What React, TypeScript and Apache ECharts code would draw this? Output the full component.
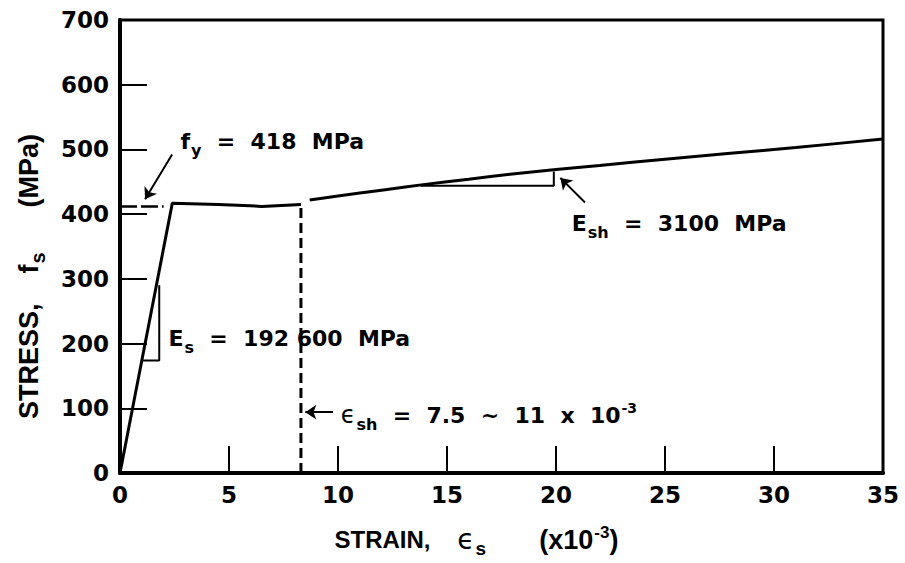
import React, { useEffect, useRef } from "react";
import * as echarts from "echarts";

// Stress-strain data (strain x10^-3, stress MPa)
const elasticPlateau: [number, number][] = [
  [0, 0], [2.4, 417], [4.5, 415], [6.5, 412], [8.3, 415],
];
const hardening: [number, number][] = [
  [8.7, 422], [10, 428], [12, 437], [14, 446], [16, 454], [18, 462],
  [20, 469], [22, 475], [25, 485], [28, 494], [31, 503], [35, 516],
];
const esTriangle: [number, number][] = [[1.0, 174], [1.8, 174], [1.8, 290]];
const eshTriangle: [number, number][] = [[13.8, 444], [19.9, 444], [19.9, 466]];
const fyDash: [number, number][] = [[0, 412], [2.0, 412]];
const eshDash: [number, number][] = [[8.3, 0], [8.3, 415]];

const arrows: [number, number][][] = [
  [[2.39, 492], [1.15, 423]],
  [[21.33, 418], [20.2, 456]],
  [[9.77, 94], [8.5, 94]],
];

const annotations: { pos: [number, number]; text: string }[] = [
  { pos: [2.75, 512], text: "{n|f}{sub|y}{n|  =  418  MPa}" },
  { pos: [2.2, 208], text: "{n|E}{sub|s}{n|  =  192 600  MPa}" },
  { pos: [10.1, 89], text: "{e|ϵ}{sub|sh}{n|  =  7.5  ~  11  x  10}{sup|-3}" },
  { pos: [20.7, 386], text: "{n|E}{sub|sh}{n|  =  3100  MPa}" },
];

const xTicks = [0, 5, 10, 15, 20, 25, 30, 35];
const yTicks = [0, 100, 200, 300, 400, 500, 600, 700];

const FONT = "DejaVu Sans";
const rich = {
  n: { fontSize: 22, fontWeight: "bold", fontFamily: FONT, color: "#000" },
  e: { fontSize: 24, fontWeight: "normal", fontFamily: FONT, color: "#000" },
  sub: { fontSize: 16, fontWeight: "bold", fontFamily: FONT, color: "#000", padding: [18, 0, 0, 1] },
  sup: { fontSize: 14, fontWeight: "bold", fontFamily: FONT, color: "#000", padding: [0, 0, 14, 1] },
};
const NF = "Liberation Sans";
const xRich = {
  n: { fontSize: 24, fontWeight: "bold", fontFamily: NF, color: "#000" },
  m: { fontSize: 27, fontWeight: "bold", fontFamily: NF, color: "#000" },
  e: { fontSize: 28, fontWeight: "normal", fontFamily: FONT, color: "#000" },
  sub: { fontSize: 19, fontWeight: "bold", fontFamily: NF, color: "#000", padding: [18, 0, 0, 1] },
  sup: { fontSize: 17, fontWeight: "bold", fontFamily: NF, color: "#000", padding: [0, 0, 14, 1] },
};
const yRich = {
  n: { fontSize: 27, fontWeight: "bold", fontFamily: NF, color: "#000" },
  sub: { fontSize: 20, fontWeight: "bold", fontFamily: NF, color: "#000", padding: [18, 0, 0, 1] },
};

export default function App() {
  const ref = useRef<HTMLDivElement>(null);
  useEffect(() => {
    if (!ref.current) return;
    const chart = echarts.init(ref.current, undefined, { renderer: "svg" });
    const solid = { color: "#000", width: 3 };
    chart.setOption({
      animation: false,
      backgroundColor: "#fff",
      grid: {
        show: true, left: 120, right: 22, top: 20, bottom: 88,
        borderColor: "#000", borderWidth: 3, containLabel: false,
      },
      xAxis: {
        type: "value", min: xTicks[0], max: xTicks[xTicks.length - 1], interval: 5,
        axisLine: { show: true, lineStyle: { color: "#000", width: 4 } },
        axisTick: { show: true, inside: true, length: 27, lineStyle: { color: "#000", width: 2 } },
        axisLabel: { fontSize: 23, fontWeight: "bold", fontFamily: FONT, color: "#000", margin: 10 },
        splitLine: { show: false },
        name: "{n|STRAIN,    }{e|ϵ}{sub|s}{n|        }{m|(x10}{sup|-3}{m|)}",
        nameLocation: "middle", nameGap: 48,
        nameTextStyle: { rich: xRich, padding: [0, 50, 0, 0] },
      },
      yAxis: {
        type: "value", min: yTicks[0], max: yTicks[yTicks.length - 1], interval: 100,
        axisLine: { show: true, lineStyle: { color: "#000", width: 4 } },
        axisTick: { show: true, inside: true, length: 27, lineStyle: { color: "#000", width: 2 } },
        axisLabel: { fontSize: 23, fontWeight: "bold", fontFamily: FONT, color: "#000", margin: 11 },
        splitLine: { show: false },
        name: "{n|STRESS,    f}{sub|s}{n|      (MPa)}",
        nameLocation: "middle", nameGap: 72,
        nameTextStyle: { rich: yRich, padding: [0, 60, 0, 0] },
      },
      series: [
        { type: "line", data: elasticPlateau, symbol: "none", lineStyle: solid },
        { type: "line", data: hardening, symbol: "none", smooth: 0.3, lineStyle: solid },
        { type: "line", data: esTriangle, symbol: "none", lineStyle: { color: "#000", width: 2 } },
        { type: "line", data: eshTriangle, symbol: "none", lineStyle: { color: "#000", width: 2 } },
        { type: "line", data: fyDash, symbol: "none", lineStyle: { color: "#000", width: 2.5, type: [17, 4] } },
        { type: "line", data: eshDash, symbol: "none", lineStyle: { color: "#000", width: 3, type: [10, 5] } },
        {
          type: "lines", coordinateSystem: "cartesian2d",
          symbol: ["none", "arrow"], symbolSize: 11,
          lineStyle: { color: "#000", width: 2, opacity: 1 },
          data: arrows.map((c) => ({ coords: c })),
        },
        {
          type: "scatter", symbol: "circle", symbolSize: 1,
          itemStyle: { color: "rgba(0,0,0,0)" },
          data: annotations.map((a) => ({
            value: a.pos,
            label: {
              show: true, position: "right", distance: 0, formatter: a.text,
              color: "#000", opacity: 1, rich,
            },
          })),
        },
      ],
    });
    return () => chart.dispose();
  }, []);
  return <div ref={ref} style={{ position: "fixed", left: 0, top: 0, width: 905, height: 563 }} />;
}
